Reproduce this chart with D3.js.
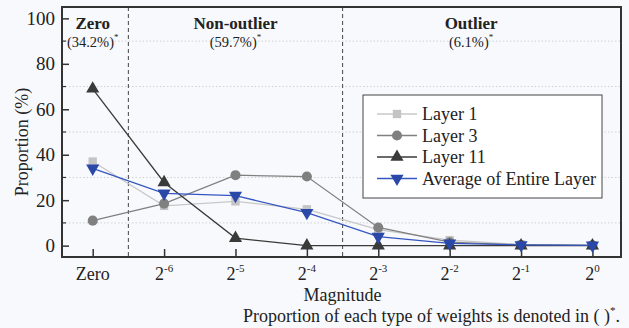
<!DOCTYPE html>
<html>
<head>
<meta charset="utf-8">
<script src="https://cdn.jsdelivr.net/npm/d3@7"></script>
<style>
  body { margin: 0; background: #f8f9fd; }
  svg { display: block; font-family: "Liberation Serif", "Times New Roman", serif; }
</style>
</head>
<body>
<script>
// categories on the x axis ("Zero", then exponents of 2)
var categories = ["Zero", "-6", "-5", "-4", "-3", "-2", "-1", "0"];

// proportion (%) for each category
var layer1 = [37, 17.5, 19.5, 16, 7, 2.4, 0.5, 0.2];
var layer3 = [11, 18.5, 31, 30.4, 8, 1.5, 0.3, 0.1];
var layer11 = [69, 27.8, 3.3, 0, 0, 0, 0, 0];
var average = [34, 23, 22, 14.5, 4, 1, 0.3, 0.1];

var seriesNames = ["Layer 1", "Layer 3", "Layer 11", "Average of Entire Layer"];

var yTicks = [0, 20, 40, 60, 80, 100];
var yMinor = [10, 30, 50, 70, 90];

// region annotations
var regionNames = ["Zero", "Non-outlier", "Outlier"];
var regionShares = ["(34.2%)", "(59.7%)", "(6.1%)"];
var regionCenters = [0, 2, 5.3];
var regionBounds = [0.5, 3.5];

var width = 629;
var height = 328;
var plotLeft = 62, plotRight = 621, plotTop = 7, plotBottom = 257;

var svg = d3.select("body").append("svg")
  .attr("width", width)
  .attr("height", height);

var x = d3.scaleLinear().domain([-0.43, 7.4]).range([plotLeft, plotRight]);
var y = d3.scaleLinear().domain([-5, 105]).range([plotBottom, plotTop]);

// dotted gridlines at odd tens
svg.append("g").selectAll("line")
  .data(yMinor)
  .enter().append("line")
    .attr("x1", plotLeft).attr("x2", plotRight)
    .attr("y1", d => y(d)).attr("y2", d => y(d))
    .attr("stroke", "#c8c8c8")
    .attr("stroke-width", 0.8)
    .attr("stroke-dasharray", "1.5,2");

// region dividers
svg.append("g").selectAll("line")
  .data(regionBounds)
  .enter().append("line")
    .attr("x1", d => x(d)).attr("x2", d => x(d))
    .attr("y1", plotTop).attr("y2", plotBottom)
    .attr("stroke", "#555")
    .attr("stroke-width", 1.1)
    .attr("stroke-dasharray", "4,3");

// frame
svg.append("rect")
  .attr("x", plotLeft).attr("y", plotTop)
  .attr("width", plotRight - plotLeft).attr("height", plotBottom - plotTop)
  .attr("fill", "none")
  .attr("stroke", "#333")
  .attr("stroke-width", 2);

// y axis
var yAxis = d3.axisLeft(y).tickValues(yTicks).tickSize(-7).tickPadding(7);
var gy = svg.append("g")
  .attr("transform", "translate(" + plotLeft + ",0)")
  .call(yAxis);
gy.select(".domain").remove();
gy.selectAll("line").attr("stroke", "#333").attr("stroke-width", 1.5);
gy.selectAll("text")
  .attr("font-family", "Liberation Serif")
  .attr("font-size", 19)
  .attr("fill", "#222");

svg.append("g").selectAll("line")
  .data(yMinor)
  .enter().append("line")
    .attr("x1", plotLeft).attr("x2", plotLeft + 4)
    .attr("y1", d => y(d)).attr("y2", d => y(d))
    .attr("stroke", "#333")
    .attr("stroke-width", 1.2);

// x axis
var xAxis = d3.axisBottom(x).tickValues(d3.range(categories.length)).tickSize(-8).tickFormat("");
var gx = svg.append("g")
  .attr("transform", "translate(0," + plotBottom + ")")
  .call(xAxis);
gx.select(".domain").remove();
gx.selectAll("line").attr("stroke", "#333").attr("stroke-width", 1.5);

var xLabels = svg.append("g")
  .attr("font-size", 18)
  .attr("fill", "#222");
categories.forEach(function(c, i) {
  var t = xLabels.append("text")
    .attr("x", x(i))
    .attr("y", 280)
    .attr("text-anchor", "middle");
  if (c === "Zero") {
    t.text("Zero");
  } else {
    t.append("tspan").text("2");
    t.append("tspan").attr("font-size", 11).attr("dy", -8).text(c);
  }
});

// axis titles
svg.append("text")
  .attr("x", x(3.5))
  .attr("y", 301)
  .attr("text-anchor", "middle")
  .attr("font-size", 18)
  .attr("fill", "#222")
  .text("Magnitude");

svg.append("text")
  .attr("transform", "translate(28,142) rotate(-90)")
  .attr("text-anchor", "middle")
  .attr("font-size", 18)
  .attr("fill", "#222")
  .text("Proportion (%)");

var note = svg.append("text")
  .attr("x", 620)
  .attr("y", 322)
  .attr("text-anchor", "end")
  .attr("font-size", 18)
  .attr("fill", "#222");
note.append("tspan").text("Proportion of each type of weights is denoted in ( )");
note.append("tspan").attr("font-size", 11).attr("dy", -8).text("*");
note.append("tspan").attr("dy", 8).text(".");

// region annotations
regionNames.forEach(function(name, i) {
  svg.append("text")
    .attr("x", x(regionCenters[i]))
    .attr("y", 29)
    .attr("text-anchor", "middle")
    .attr("font-size", 17)
    .attr("font-weight", "bold")
    .attr("fill", "#222")
    .text(name);
  var s = svg.append("text")
    .attr("x", x(regionCenters[i]))
    .attr("y", 47)
    .attr("text-anchor", "middle")
    .attr("font-size", 14.5)
    .attr("fill", "#222");
  s.append("tspan").text(regionShares[i]);
  s.append("tspan").attr("font-size", 9).attr("dy", -7).text("*");
});

// series
var series = [
  { name: seriesNames[0], values: layer1, color: "#c4c4c4", line: "#c8c8c8", symbol: d3.symbolSquare, size: 70, rot: 0 },
  { name: seriesNames[1], values: layer3, color: "#808080", line: "#808080", symbol: d3.symbolCircle, size: 80, rot: 0 },
  { name: seriesNames[2], values: layer11, color: "#3a3a3a", line: "#3a3a3a", symbol: d3.symbolTriangle, size: 75, rot: 0 },
  { name: seriesNames[3], values: average, color: "#2a48a8", line: "#3556c0", symbol: d3.symbolTriangle, size: 75, rot: 180 }
];

var line = d3.line()
  .x((d, i) => x(i))
  .y(d => y(d));

series.forEach(function(s) {
  svg.append("path")
    .attr("d", line(s.values))
    .attr("fill", "none")
    .attr("stroke", s.line)
    .attr("stroke-width", 1.3);
  svg.append("g").selectAll("path")
    .data(s.values)
    .enter().append("path")
      .attr("transform", (d, i) => "translate(" + x(i) + "," + y(d) + ") rotate(" + s.rot + ")")
      .attr("d", d3.symbol().type(s.symbol).size(s.size))
      .attr("fill", s.color);
});

// legend
var legend = svg.append("g")
  .attr("transform", "translate(363,95)");
legend.append("rect")
  .attr("width", 239).attr("height", 103)
  .attr("fill", "#fff")
  .attr("stroke", "#444")
  .attr("stroke-width", 1);

series.forEach(function(s, i) {
  var row = legend.append("g")
    .attr("transform", "translate(0," + (19 + i * 21.5) + ")");
  row.append("line")
    .attr("x1", 14).attr("x2", 54)
    .attr("stroke", s.line)
    .attr("stroke-width", 1.3);
  row.append("path")
    .attr("transform", "translate(34,0) rotate(" + s.rot + ")")
    .attr("d", d3.symbol().type(s.symbol).size(s.size))
    .attr("fill", s.color);
  row.append("text")
    .attr("x", 59)
    .attr("y", 6)
    .attr("font-size", 18)
    .attr("fill", "#222")
    .text(s.name);
});
</script>
</body>
</html>
